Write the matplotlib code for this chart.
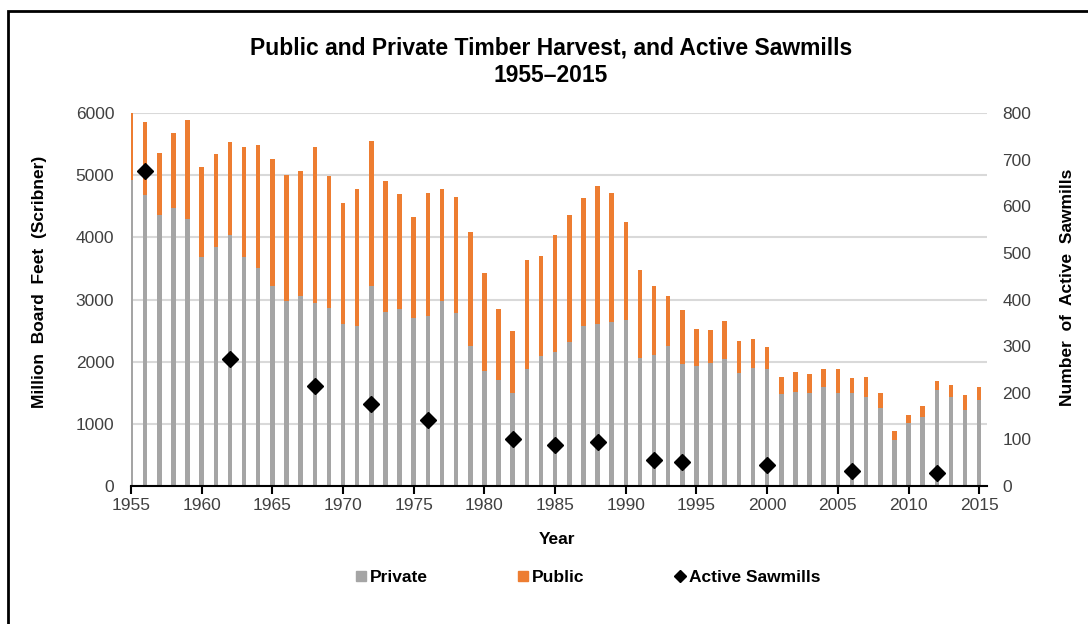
import numpy as np
import matplotlib
matplotlib.use('Agg')
import matplotlib.pyplot as plt
from matplotlib.patches import Rectangle
from matplotlib.lines import Line2D

plt.rcParams['font.family'] = ['Liberation Sans', 'DejaVu Sans']

# harvest data (million board feet, Scribner)
years = np.arange(1955, 2016)
private = [4920, 4680, 4360, 4470, 4290, 3690, 3850, 4040, 3690, 3510,
           3220, 2970, 3050, 2940, 2870, 2610, 2580, 3220, 2800, 2850,
           2710, 2740, 2970, 2780, 2260, 1850, 1710, 1490, 1880, 2090,
           2160, 2310, 2580, 2600, 2640, 2670, 2060, 2110, 2260, 1970,
           1930, 1980, 2040, 1820, 1900, 1880, 1480, 1520, 1490, 1590,
           1490, 1490, 1430, 1260, 740, 1020, 1110, 1550, 1430, 1220,
           1380]
public = [1080, 1170, 1000, 1210, 1590, 1440, 1490, 1490, 1760, 1970,
          2040, 2040, 2010, 2520, 2120, 1940, 2200, 2330, 2110, 1850,
          1620, 1970, 1810, 1870, 1820, 1580, 1140, 1000, 1760, 1610,
          1880, 2050, 2060, 2220, 2080, 1570, 1410, 1100, 790, 860,
          590, 530, 610, 510, 460, 350, 270, 320, 310, 290,
          390, 240, 330, 230, 150, 130, 170, 140, 200, 240,
          210]

# active sawmills
mill_years = [1956, 1962, 1968, 1972, 1976, 1982, 1985, 1988, 1992, 1994, 2000, 2006, 2012]
mill_counts = [675, 273, 215, 175, 142, 100, 88, 94, 55, 52, 46, 33, 27]

gray = '#A5A5A5'
orange = '#ED7D31'
tick_color = '#404040'

fig = plt.figure(figsize=(10.88, 6.24), dpi=100)
ax = fig.add_axes([131 / 1088, 1 - 486 / 624, (987 - 131) / 1088, (486 - 113) / 624])
ax2 = ax.twinx()

# bars
ax.bar(years, private, width=0.32, color=gray, zorder=2)
ax.bar(years, public, width=0.32, bottom=private, color=orange, zorder=2)

# sawmills on the right axis
ax2.plot(mill_years, mill_counts, linestyle='none', marker='D', markersize=8,
         color='black', zorder=5)

ax.set_xlim(1955, 2015.55)
ax.set_ylim(0, 6000)
ax2.set_ylim(0, 800)
ax.set_yticks(range(0, 6001, 1000))
ax2.set_yticks(range(0, 801, 100))
ax.set_xticks(range(1955, 2016, 5))

ax.grid(axis='y', color='#D9D9D9', linewidth=1.5, zorder=0)
ax.set_axisbelow(True)

for a in (ax, ax2):
    for s in ('left', 'right', 'top'):
        a.spines[s].set_visible(False)
ax2.spines['bottom'].set_visible(False)
ax.spines['bottom'].set_linewidth(1.5)
ax.spines['bottom'].set_color('black')

ax.tick_params(axis='y', length=0, pad=12, labelsize=12.5, labelcolor=tick_color)
ax2.tick_params(axis='y', length=0, pad=11, labelsize=12.5, labelcolor=tick_color)
ax.tick_params(axis='x', direction='out', length=6, width=1.5, pad=3,
               labelsize=12.5, labelcolor=tick_color)

# titles and axis labels
fig.text(551 / 1088, 1 - 48 / 624, 'Public and Private Timber Harvest, and Active Sawmills',
         ha='center', va='center', fontsize=16.5, fontweight='bold')
fig.text(551 / 1088, 1 - 75 / 624, '1955\u20132015',
         ha='center', va='center', fontsize=16.5, fontweight='bold')
fig.text(40 / 1088, 1 - 282 / 624, 'Million  Board  Feet  (Scribner)', rotation=90,
         ha='center', va='center', fontsize=12.5, fontweight='bold')
fig.text(1068 / 1088, 1 - 287 / 624, 'Number  of  Active  Sawmills', rotation=90,
         ha='center', va='center', fontsize=12.5, fontweight='bold')
fig.text(557 / 1088, 1 - 540 / 624, 'Year',
         ha='center', va='center', fontsize=12.5, fontweight='bold')

# legend
handles = [
    Line2D([], [], linestyle='none', marker='s', markersize=7, color=gray),
    Line2D([], [], linestyle='none', marker='s', markersize=7, color=orange),
    Line2D([], [], linestyle='none', marker='D', markersize=6, color='black'),
]
fig.legend(handles, ['Private', 'Public', 'Active Sawmills'], ncol=3,
           loc='center', bbox_to_anchor=(588 / 1088, 1 - 577 / 624),
           frameon=False, handlelength=0.6, handletextpad=0.2, columnspacing=5.2,
           prop={'weight': 'bold', 'size': 12.5})

# outer frame
fig.patches.append(Rectangle((8 / 1088, -0.1), 1.2, 1.1 - 11 / 624, fill=False,
                             edgecolor='black', linewidth=2, transform=fig.transFigure))

fig.savefig('out.png', dpi=100)
